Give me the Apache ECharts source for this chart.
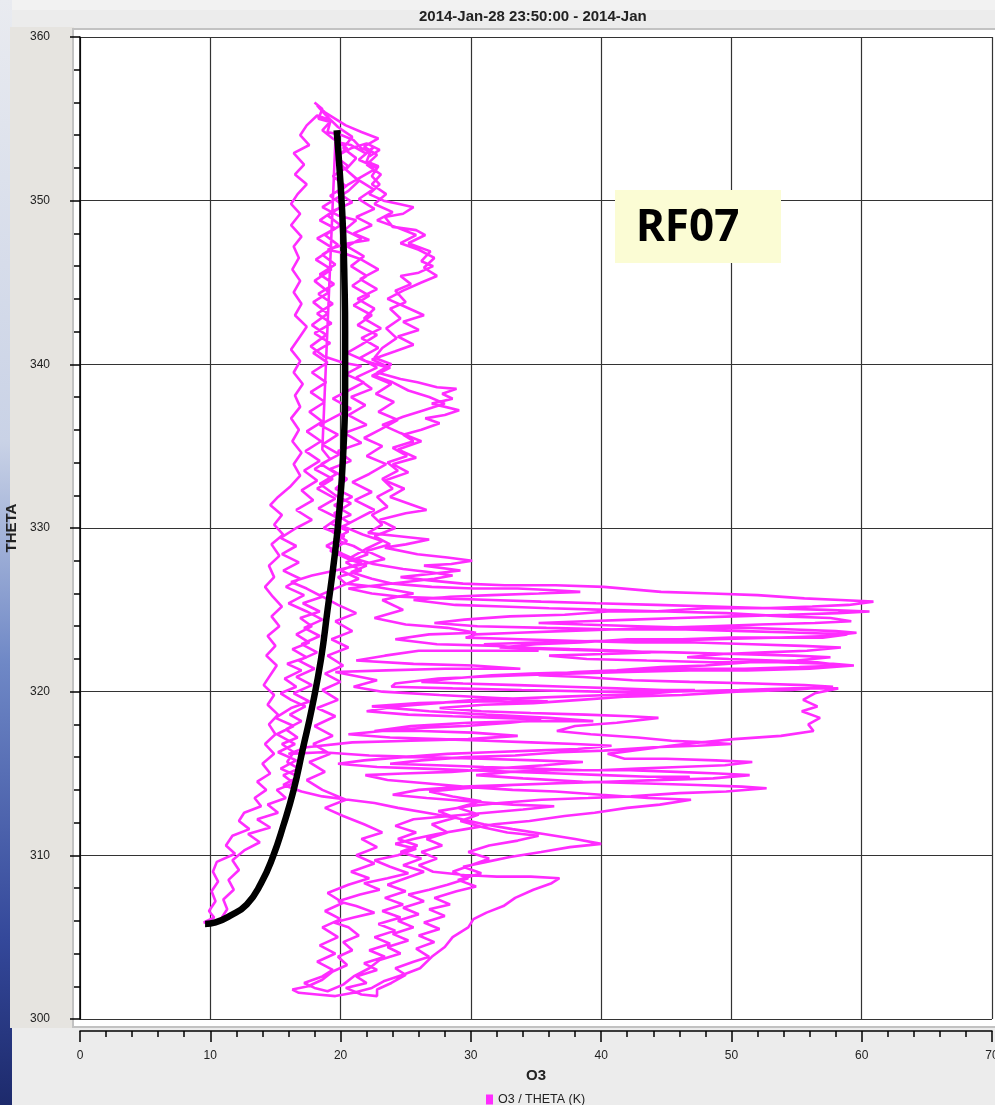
<!DOCTYPE html>
<html>
<head>
<meta charset="utf-8">
<script src="https://cdn.jsdelivr.net/npm/echarts@6/dist/echarts.min.js"></script>
<style>
html,body{margin:0;padding:0;background:#ececec;overflow:hidden;}
#chart{width:995px;height:1105px;}
</style>
</head>
<body>
<div id="chart"></div>
<script>
// ---- data (O3, THETA) ----
const titleText = '2014-Jan-28 23:50:00 - 2014-Jan';
const seriesName = 'O3 / THETA (K)';
const flightLabel = 'RF07';
const xTicks = {min: 0, max: 70, step: 10};
const yTicks = {min: 300, max: 360, step: 10};

const leg1 = [[18.0,356.0],[18.6,355.6],[18.3,355.0],[19.2,354.8],[19.0,354.2],[20.1,354.0],[21.0,353.7],[21.6,353.2],[22.3,353.0],[22.0,352.4],[22.9,352.1],[22.4,351.5],[23.0,351.0],[22.2,350.4],[23.3,350.0],[24.5,349.8],[25.6,349.6],[24.8,349.2],[23.4,349.0],[24.0,348.4],[25.8,348.2],[26.5,347.9],[25.2,347.4],[26.9,346.9],[26.2,346.3],[27.1,346.0],[26.0,345.6],[24.6,345.4],[25.4,344.9],[24.2,344.5],[25.0,343.8],[23.8,343.4],[24.6,342.8],[23.5,342.2],[24.3,341.6],[23.2,341.0],[22.6,340.4],[23.9,340.0],[22.8,339.5],[24.6,339.1],[25.9,338.9],[27.4,338.6],[28.9,338.5],[27.8,338.2],[28.6,337.9],[27.0,337.6],[29.1,337.2],[28.0,336.9],[26.5,336.7],[27.6,336.4],[26.2,336.0],[24.8,335.7],[25.6,335.3],[24.0,334.9],[25.1,334.4],[23.6,334.0],[24.4,333.5],[23.2,333.0],[24.0,332.4],[22.8,331.9],[23.6,331.3],[22.4,330.8],[23.2,330.2],[22.1,329.7],[24.5,329.5],[26.8,329.3],[25.0,329.0],[23.4,328.8],[25.9,328.4],[28.2,328.2],[30.1,328.0],[28.5,327.8],[26.4,327.7],[29.2,327.4],[27.0,327.2],[24.6,327.0],[26.8,326.8],[29.4,326.6],[32.6,326.5],[36.5,326.5],[40.2,326.4],[44.6,326.1],[48.5,326.0],[52.0,325.9],[55.6,325.7],[58.4,325.6],[60.9,325.5],[59.0,325.3],[56.2,325.2],[52.4,325.1],[48.0,325.1],[44.0,324.9],[40.5,324.9],[37.2,324.7],[33.0,324.6],[29.5,324.4],[27.2,324.2],[30.5,324.0],[35.8,323.9],[41.2,323.8],[46.5,323.8],[51.0,323.7],[55.3,323.6],[58.9,323.5],[57.0,323.3],[53.2,323.3],[48.8,323.2],[44.1,323.1],[39.5,323.1],[34.9,323.0],[31.0,322.9],[33.5,322.7],[37.6,322.6],[41.8,322.5],[43.8,322.4],[40.2,322.3],[36.0,322.2],[38.9,322.0],[43.5,321.9],[48.4,321.8],[53.6,321.8],[57.8,321.7],[59.4,321.6],[56.0,321.4],[51.2,321.3],[46.8,321.3],[42.0,321.2],[37.5,321.1],[33.8,321.0],[30.2,320.9],[27.5,320.8],[24.2,320.5],[23.9,320.3],[28.6,320.2],[33.9,320.1],[39.8,320.0],[45.2,320.0],[50.6,320.1],[54.8,320.2],[58.2,320.2],[56.4,319.9],[55.5,319.5],[56.6,319.1],[55.4,318.8],[56.8,318.4],[55.9,318.0],[56.3,317.6],[53.8,317.3],[50.2,317.1],[46.4,316.8],[42.4,316.4],[40.5,316.2],[41.8,315.9],[45.0,315.9],[48.8,315.8],[51.6,315.7],[49.5,315.5],[46.0,315.4],[42.8,315.3],[39.8,315.2],[36.2,315.2],[33.0,315.1],[30.4,314.9],[34.0,314.7],[38.6,314.5],[42.9,314.4],[47.4,314.3],[50.8,314.2],[52.7,314.1],[49.6,313.9],[46.0,313.8],[42.3,313.6],[39.0,313.5],[35.4,313.4],[32.2,313.2],[29.8,313.0],[27.5,312.7],[28.8,312.3],[27.0,311.9],[28.2,311.4],[26.6,311.0],[27.8,310.6],[26.2,310.2],[27.4,309.8],[26.0,309.4],[27.1,309.0],[29.5,308.8],[32.0,308.7],[34.6,308.7],[36.8,308.6],[36.2,308.3],[34.8,307.9],[33.4,307.4],[32.5,306.9],[31.2,306.5],[30.2,306.1],[29.8,305.6],[28.6,305.0],[28.0,304.4],[27.0,303.8],[26.1,303.1],[24.8,302.7],[23.3,302.3],[22.4,301.9],[21.0,301.6],[19.6,301.4],[18.2,301.5],[16.8,301.6],[16.3,301.8]];

const leg2 = [[17.5,302.0],[18.6,302.4],[19.4,302.9],[20.5,303.3],[19.8,303.8],[20.9,304.2],[20.2,304.7],[21.4,305.1],[20.6,305.6],[19.5,305.9],[21.0,306.2],[22.6,306.5],[21.2,306.9],[19.8,307.2],[21.5,307.6],[23.0,307.9],[21.8,308.3],[23.6,308.6],[25.2,308.9],[23.8,309.3],[22.6,309.7],[24.4,310.0],[25.8,310.4],[24.2,310.7],[25.6,311.0],[27.4,311.3],[29.6,311.6],[31.8,311.9],[34.5,312.1],[37.2,312.4],[39.5,312.6],[42.0,312.9],[44.5,313.1],[46.9,313.4],[43.6,313.5],[40.0,313.7],[36.5,313.9],[33.2,314.0],[29.4,314.2],[26.5,314.4],[23.6,314.6],[21.9,314.9],[24.8,315.0],[28.5,315.1],[31.8,315.3],[35.6,315.5],[38.6,315.7],[35.0,315.8],[30.8,315.9],[26.4,316.0],[22.2,316.1],[18.6,316.3],[16.0,316.2],[17.4,316.6],[20.9,316.9],[25.4,317.0],[29.8,317.1],[33.6,317.3],[30.1,317.5],[26.2,317.6],[22.6,317.6],[25.4,317.9],[29.8,318.1],[34.5,318.2],[39.4,318.2],[36.0,318.4],[31.2,318.6],[26.8,318.8],[22.4,319.1],[26.0,319.3],[30.6,319.4],[35.9,319.4],[32.4,319.6],[27.6,319.8],[23.2,320.0],[21.0,320.3],[22.8,320.7],[19.6,321.2],[23.5,321.3],[28.0,321.4],[33.8,321.4],[30.2,321.6],[25.6,321.7],[21.2,321.9],[23.4,322.2],[26.0,322.5],[30.5,322.5],[35.2,322.5],[32.0,322.8],[27.4,322.9],[24.2,323.2],[26.8,323.5],[30.4,323.6],[28.2,323.9],[25.0,324.1],[22.6,324.5],[24.8,325.0],[23.2,325.6],[25.6,326.0],[22.8,326.4],[20.4,326.6],[19.8,327.0],[21.6,327.4],[20.4,327.9],[22.1,328.4],[21.0,328.9],[19.5,329.3],[20.6,329.8],[19.2,330.3],[20.8,330.8],[19.5,331.4],[20.9,331.9],[19.6,332.4],[20.5,333.0],[19.2,333.6],[20.8,334.1],[19.8,334.7],[21.6,335.2],[20.3,335.8],[22.0,336.3],[20.6,336.9],[21.9,337.5],[20.8,338.0],[22.4,338.5],[21.2,339.2],[22.8,339.8],[21.5,340.4],[22.9,341.0],[21.6,341.6],[23.1,342.2],[21.8,342.8],[22.6,343.4],[21.3,344.0],[22.8,344.6],[21.5,345.2],[22.9,345.8],[21.6,346.4],[20.2,346.8],[19.0,347.0],[20.6,347.4],[22.2,347.6],[21.0,348.0],[22.4,348.5],[21.2,349.0],[22.6,349.5],[21.4,350.1],[22.5,350.7],[21.3,351.3],[20.4,351.9],[19.6,352.6],[20.5,353.2],[19.4,353.8],[18.6,354.3],[19.3,354.9]];

const leg3 = [[18.2,355.2],[17.4,354.6],[16.9,354.0],[17.6,353.4],[16.4,352.9],[17.2,352.2],[16.5,351.6],[17.4,351.0],[16.7,350.4],[16.2,349.8],[16.9,349.2],[16.2,348.5],[17.0,347.8],[16.4,347.2],[16.8,346.5],[16.3,345.8],[16.9,345.1],[16.4,344.4],[17.0,343.7],[16.5,343.0],[17.4,342.3],[16.8,341.6],[16.2,340.9],[16.9,340.2],[16.4,339.5],[17.1,338.8],[16.5,338.1],[16.9,337.4],[16.2,336.7],[16.8,336.0],[16.3,335.3],[17.0,334.6],[16.4,333.9],[16.9,333.2],[16.1,332.5],[15.2,331.9],[14.6,331.4],[15.5,330.8],[14.9,330.2],[15.6,329.6],[14.7,329.0],[15.3,328.3],[14.5,327.7],[14.9,327.0],[14.2,326.4],[14.8,325.8],[15.5,325.2],[14.7,324.6],[15.3,324.0],[14.4,323.4],[15.0,322.8],[14.3,322.2],[15.1,321.6],[14.6,321.0],[14.1,320.4],[14.9,319.8],[14.4,319.2],[15.2,318.6],[14.5,318.0],[15.0,317.4],[14.2,316.8],[14.9,316.2],[14.0,315.6],[14.6,315.0],[13.6,314.5],[14.3,314.0],[13.4,313.5],[13.9,313.0],[12.6,312.6],[12.2,312.1],[13.0,311.6],[11.7,311.2],[11.2,310.6],[11.9,310.1],[10.5,309.6],[10.2,309.0],[10.6,308.4],[10.1,307.8],[10.4,307.2],[9.9,306.6],[10.3,306.2],[9.5,305.9],[10.4,305.8]];

const leg4 = [[10.8,306.1],[11.3,306.7],[11.0,307.3],[11.8,307.9],[11.4,308.5],[12.2,309.1],[11.7,309.7],[12.6,310.3],[13.8,310.8],[12.9,311.3],[14.6,311.7],[13.6,312.2],[15.2,312.6],[14.4,313.1],[15.8,313.5],[15.1,314.0],[16.4,314.4],[15.6,314.9],[16.8,315.3],[15.9,315.7],[16.4,316.3],[15.5,316.8],[16.7,317.2],[15.8,317.7],[17.0,318.2],[16.1,318.6],[17.3,319.1],[16.2,319.5],[15.4,319.9],[16.6,320.3],[15.7,320.8],[17.0,321.3],[15.9,321.7],[17.4,322.1],[16.3,322.6],[17.6,323.0],[16.6,323.5],[17.8,324.0],[16.9,324.5],[18.4,324.9],[17.1,325.4],[18.6,325.8],[17.4,326.3],[16.2,326.7],[17.8,327.1],[19.6,327.4],[21.8,327.8],[23.4,328.1],[22.0,328.6],[23.8,329.0],[22.6,329.5],[24.2,330.0],[23.0,330.5],[25.0,330.9],[26.6,331.1],[25.2,331.5],[23.8,331.9],[24.9,332.4],[23.4,332.9],[25.2,333.4],[24.0,333.9],[25.8,334.3],[24.4,334.8],[26.2,335.3],[24.6,335.8],[23.2,336.3],[24.8,336.8],[26.4,337.2],[28.0,337.6],[26.8,338.0],[25.2,338.4],[24.0,338.9],[22.6,339.3],[23.8,339.8],[22.4,340.3],[24.2,340.8],[25.6,341.2],[24.4,341.7],[26.0,342.1],[24.8,342.6],[26.4,343.0],[25.0,343.5],[23.6,344.0],[24.8,344.5],[26.2,345.0],[27.4,345.4],[26.4,345.9],[27.2,346.5],[26.0,347.0],[24.6,347.4],[25.8,347.9],[24.2,348.4],[22.8,348.8],[24.0,349.3],[22.6,349.8],[23.5,350.4],[22.4,351.0],[23.1,351.6],[22.0,352.2],[22.8,352.8],[21.8,353.3],[22.9,353.8],[21.6,354.2],[20.4,354.6],[19.6,355.0],[18.8,355.4],[18.2,355.8]];

const leg5 = [[18.9,355.2],[19.8,354.5],[20.9,353.9],[20.2,353.2],[21.2,352.6],[20.4,351.9],[21.4,351.2],[20.6,350.6],[19.4,350.0],[18.6,349.6],[19.8,349.1],[21.2,348.8],[20.3,348.2],[21.6,347.7],[20.5,347.2],[21.8,346.6],[20.8,346.0],[22.0,345.4],[20.9,344.8],[22.2,344.2],[21.0,343.6],[22.4,343.0],[21.3,342.4],[22.8,341.8],[21.6,341.2],[20.5,340.7],[21.9,340.2],[23.6,339.8],[22.4,339.3],[23.9,338.8],[22.7,338.2],[24.1,337.7],[22.9,337.1],[24.4,336.6],[23.0,336.0],[21.8,335.5],[23.2,335.0],[22.0,334.4],[23.5,333.9],[22.2,333.3],[20.9,332.8],[22.4,332.2],[21.1,331.7],[22.6,331.1],[21.4,330.6],[20.2,330.1],[21.7,329.6],[23.2,329.2],[21.9,328.7],[20.8,328.2],[22.5,327.8],[24.8,327.5],[26.9,327.3],[28.6,327.1],[27.2,326.9],[25.0,326.7],[22.8,326.5],[20.6,326.3],[22.4,326.0],[24.6,325.8],[27.8,325.7],[31.6,325.6],[35.4,325.5],[39.6,325.4],[44.2,325.3],[48.6,325.2],[53.0,325.1],[57.2,325.0],[60.6,324.9],[58.2,324.8],[54.4,324.7],[50.2,324.6],[46.0,324.5],[42.4,324.4],[38.8,324.3],[35.2,324.2],[38.6,324.1],[42.8,324.0],[47.0,323.9],[51.4,323.9],[54.8,323.8],[58.0,323.7],[59.6,323.6],[57.4,323.4],[53.8,323.3],[50.0,323.3],[46.2,323.2],[42.0,323.2],[38.4,323.0],[35.0,322.9],[32.2,322.7],[35.8,322.6],[40.0,322.5],[45.6,322.4],[50.2,322.3],[54.8,322.2],[57.6,322.1],[55.0,321.9],[51.4,321.8],[48.0,321.6],[44.6,321.5],[41.2,321.3],[38.0,321.2],[35.2,321.0],[38.6,320.9],[42.4,320.7],[46.8,320.6],[51.8,320.5],[55.6,320.4],[57.8,320.3],[54.6,320.1],[50.4,320.0],[46.2,319.8],[42.0,319.7],[38.4,319.5],[34.8,319.3],[31.0,319.2],[27.6,319.0],[30.8,318.8],[34.6,318.7],[38.8,318.6],[42.2,318.5],[44.4,318.4],[41.2,318.1],[38.0,317.9],[36.6,317.6],[39.2,317.4],[42.8,317.2],[45.4,317.0],[48.0,316.9],[50.0,316.8],[47.4,316.7],[44.0,316.6],[40.2,316.4],[36.8,316.3],[33.4,316.1],[29.6,316.0],[26.2,315.8],[23.8,315.6],[27.4,315.5],[31.0,315.4],[34.8,315.3],[38.6,315.2],[42.2,315.2],[45.8,315.1],[49.0,315.0],[51.4,314.9],[48.6,314.7],[44.8,314.6],[40.6,314.5],[36.8,314.4],[33.2,314.3],[29.6,314.1],[26.8,313.9],[28.6,313.6],[30.8,313.3],[29.0,312.9],[30.6,312.5],[29.2,312.1],[31.0,311.7],[32.8,311.4],[35.2,311.2],[33.6,310.9],[31.4,310.6],[29.8,310.2],[31.4,309.8],[30.0,309.4],[28.6,309.0],[29.8,308.6],[28.2,308.2],[26.8,307.9],[25.2,307.6],[26.4,307.2],[24.8,306.8],[26.0,306.4],[24.4,306.0],[25.6,305.6],[24.0,305.2],[25.2,304.8],[23.6,304.4],[24.6,304.0],[23.0,303.6],[22.2,303.1],[21.0,302.6],[20.2,302.1],[19.0,301.7],[18.0,301.9],[17.2,302.2],[18.6,302.6]];

const leg6 = [[19.4,303.0],[18.2,303.5],[19.6,304.0],[18.4,304.5],[19.8,305.0],[18.6,305.6],[20.0,306.1],[18.8,306.6],[20.2,307.1],[19.0,307.7],[20.6,308.2],[22.2,308.6],[20.8,309.0],[22.6,309.5],[21.2,310.0],[22.8,310.5],[21.6,311.0],[23.2,311.4],[21.8,311.9],[20.2,312.4],[18.8,312.9],[20.4,313.4],[18.6,314.0],[17.4,314.6],[18.8,315.1],[17.6,315.7],[19.2,316.2],[17.9,316.8],[19.4,317.3],[18.0,317.9],[19.6,318.5],[18.2,319.0],[19.8,319.5],[18.6,320.1],[20.0,320.6],[18.8,321.1],[20.2,321.6],[19.0,322.2],[20.6,322.7],[19.3,323.2],[20.9,323.7],[19.6,324.3],[21.2,324.8],[19.8,325.3],[18.4,325.9],[19.9,326.4],[21.4,326.9],[20.0,327.4],[21.6,327.9],[20.2,328.4],[18.9,328.9],[20.3,329.5],[18.7,330.0],[19.8,330.6],[18.3,331.2],[19.6,331.8],[18.2,332.4],[19.4,333.0],[18.0,333.6],[19.2,334.2],[18.6,334.8]];

const leg7 = [[19.6,353.6],[20.8,353.4],[21.9,352.9],[22.6,353.3],[21.4,352.5],[22.8,352.0],[21.7,351.5],[20.6,351.0],[19.8,350.5],[20.9,349.9],[19.5,349.4],[18.4,348.8],[19.6,348.3],[18.2,347.7],[19.4,347.1],[18.1,346.4],[19.3,345.8],[18.0,345.1],[19.1,344.4],[17.9,343.8],[19.0,343.1],[17.8,342.4],[18.9,341.8],[17.7,341.1],[18.7,340.5],[20.2,340.1],[21.6,339.9],[20.4,339.4],[21.8,338.9],[20.6,338.4],[19.4,337.9],[20.8,337.3],[19.6,336.8],[18.4,336.3],[19.8,335.7],[18.6,335.1],[19.9,334.5],[18.5,333.9],[19.7,333.3],[18.4,332.7],[19.6,332.0],[20.8,331.5],[19.5,330.9],[20.7,330.3],[19.3,329.8],[20.5,329.2],[19.2,328.6],[20.6,328.1],[22.0,327.7],[20.8,327.3],[22.4,326.9],[24.0,326.6],[27.0,326.4],[30.2,326.3],[33.6,326.3],[36.4,326.2],[38.4,326.1],[35.2,326.0],[31.6,325.9],[28.4,325.8],[25.6,325.6],[28.8,325.3],[32.4,325.2],[36.0,325.1],[40.4,325.0],[45.0,324.9],[49.6,324.8],[54.0,324.6],[57.6,324.5],[59.2,324.3],[56.4,324.2],[52.2,324.1],[48.4,324.0],[44.6,323.9],[40.8,323.8],[37.0,323.7],[33.6,323.6],[30.4,323.5],[29.6,323.3],[33.8,323.2],[38.2,323.1],[42.6,323.0],[47.2,323.0],[51.6,322.9],[55.4,322.8],[58.4,322.7],[55.8,322.5],[52.6,322.4],[49.4,322.3],[46.6,322.1],[49.8,322.0],[53.2,321.9],[56.6,321.8],[58.6,321.6],[55.2,321.5],[51.0,321.4],[46.6,321.4],[42.4,321.3],[38.6,321.2],[34.6,321.1],[31.6,321.0],[28.6,320.8],[26.2,320.6],[29.4,320.5],[33.6,320.4],[37.4,320.3],[41.2,320.2],[44.8,320.1],[47.2,320.1],[44.0,319.9],[40.6,319.8],[37.2,319.7],[33.8,319.6],[30.4,319.5],[27.4,319.3],[24.2,319.1],[22.0,318.8],[25.2,318.6],[28.6,318.5],[32.2,318.4],[35.4,318.3],[33.0,318.1],[29.6,317.9],[26.4,317.8],[23.2,317.6],[20.6,317.4],[23.8,317.2],[27.6,317.1],[31.2,317.0],[34.6,316.9],[38.0,316.8],[40.8,316.7],[38.2,316.5],[34.8,316.4],[31.4,316.3],[28.2,316.2],[24.8,316.0],[21.8,315.8],[19.8,315.6],[22.8,315.4],[26.4,315.3],[29.8,315.2],[33.4,315.1],[36.8,315.0],[40.2,314.9],[43.6,314.8],[46.8,314.8],[44.2,314.6],[40.4,314.5],[36.6,314.4],[32.8,314.3],[29.4,314.2],[26.0,314.0],[24.0,313.7],[26.6,313.5],[29.8,313.3],[33.2,313.1],[36.4,313.0],[34.0,312.8],[31.2,312.6],[28.4,312.4],[25.6,312.2],[24.2,311.8],[25.8,311.4],[24.4,311.0],[25.9,310.6],[24.6,310.2],[26.2,309.8],[24.8,309.4],[26.4,309.0],[25.0,308.6],[23.6,308.2],[25.0,307.8],[23.4,307.4],[24.8,307.0],[23.2,306.6],[24.6,306.2],[22.9,305.8],[24.2,305.4],[22.6,305.0],[23.8,304.6],[22.2,304.2],[23.4,303.8],[21.8,303.4],[22.8,303.0],[21.2,302.6],[22.0,302.2],[20.4,301.9],[21.6,301.5],[22.8,301.4]];

const leg8 = [[22.8,301.8],[23.9,302.2],[25.0,302.7],[24.2,303.1],[25.6,303.5],[26.8,303.8],[25.8,304.3],[27.2,304.7],[26.0,305.1],[27.6,305.5],[26.4,305.9],[28.0,306.3],[26.8,306.7],[28.4,307.0],[27.2,307.4],[28.9,307.8],[30.4,308.1],[29.0,308.5],[30.8,308.9],[29.4,309.3],[31.2,309.6],[33.0,309.9],[35.4,310.2],[37.6,310.5],[40.0,310.7],[38.0,311.0],[35.6,311.3],[33.2,311.6],[31.0,311.9],[28.8,312.3],[26.6,312.6],[24.4,312.9],[22.6,313.2],[20.6,313.4],[18.6,313.6],[17.0,313.9],[15.6,314.3],[16.8,314.8],[15.4,315.3],[16.6,315.8],[15.2,316.3],[16.5,316.8],[15.1,317.4],[16.4,317.9],[15.0,318.4],[16.2,319.0],[17.6,319.4],[16.4,319.9],[17.8,320.4],[16.6,320.9],[18.0,321.4],[16.8,321.9],[18.2,322.4],[17.0,322.9],[18.4,323.4],[17.2,323.9],[18.6,324.4],[17.4,324.9],[16.0,325.4],[17.2,325.9],[15.8,326.4],[16.9,326.9],[15.6,327.4],[16.8,327.9],[15.5,328.4],[16.6,328.9],[15.4,329.4],[16.6,330.0],[17.8,330.5],[16.6,331.1],[17.9,331.7],[17.0,332.3],[18.2,332.9],[17.2,333.5],[18.4,334.1],[17.3,334.7],[18.5,335.3],[17.4,335.9],[18.6,336.5],[17.6,337.1],[18.8,337.7],[17.7,338.3],[18.9,338.9],[17.8,339.5],[19.0,340.1],[17.9,340.7],[19.2,341.3],[18.0,341.9],[19.3,342.5],[18.2,343.1],[19.4,343.7],[18.3,344.3],[19.5,344.9],[18.4,345.5],[19.6,346.1],[18.6,346.7],[19.8,347.3],[18.8,347.9],[20.0,348.5],[19.0,349.1],[20.2,349.7],[19.2,350.3],[20.4,350.9],[19.4,351.5],[20.6,352.1],[19.6,352.7],[20.8,353.2],[22.0,353.5],[23.0,353.1],[22.2,352.7]];

// hand-drawn black curve annotation
const blackCurve = [[9.6,305.8],[10.4,305.9],[11.5,306.3],[12.8,307.0],[13.9,308.3],[14.8,309.9],[15.6,311.8],[16.4,314.0],[17.1,316.5],[17.8,319.0],[18.5,322.0],[19.0,325.0],[19.5,328.0],[19.9,331.0],[20.2,334.5],[20.35,338.4],[20.35,342.0],[20.3,345.0],[20.2,348.0],[20.0,351.0],[19.7,354.3]];

const trace = [].concat(leg1, leg2, leg3, leg4, leg5, leg6, leg7, leg8);

const chart = echarts.init(document.getElementById('chart'), null, {renderer: 'canvas'});
const FONT = '"Liberation Sans", Arial, Helvetica, sans-serif';
const MAG = '#ff2cff';

chart.setOption({
  animation: false,
  backgroundColor: '#ececec',
  textStyle: {fontFamily: FONT},
  title: {
    text: titleText, left: 414, top: 4,
    textStyle: {fontSize: 15, fontWeight: 'bold', color: '#222', fontFamily: FONT}
  },
  legend: {
    data: [seriesName], left: 481, top: 1088,
    itemWidth: 7, itemHeight: 10, itemGap: 6,
    icon: 'rect',
    textStyle: {fontSize: 12.5, color: '#222', fontFamily: FONT}
  },
  grid: {left: 80, right: 3, top: 37, bottom: 86, containLabel: false, outerBoundsMode: 'none'},
  graphic: [
    {type: 'rect', z: -20, shape: {x: 0, y: 0, width: 12, height: 1105},
     style: {fill: new echarts.graphic.LinearGradient(0, 0, 0, 1, [
       {offset: 0, color: '#e9ebf0'}, {offset: 0.4, color: '#c9d2e6'},
       {offset: 0.6, color: '#6f88c6'}, {offset: 0.85, color: '#34489a'}, {offset: 1, color: '#1d2a6c'}])}},
    {type: 'rect', z: -15, shape: {x: 12, y: 0, width: 983, height: 10}, style: {fill: '#f2f2f2'}},
    {type: 'rect', z: -14, shape: {x: 10, y: 27, width: 64, height: 1001}, style: {fill: '#e6e4e0'}},
    {type: 'rect', z: -10, shape: {x: 73, y: 29, width: 940, height: 998},
     style: {fill: '#ffffff', stroke: '#c2c2c2', lineWidth: 2}},
    {type: 'rect', z: 100, shape: {x: 615, y: 190, width: 166, height: 73}, style: {fill: '#fbfcd4'}},
    {type: 'text', z: 101, x: 636, y: 228,
     style: {text: flightLabel, fill: '#000', font: 'bold 44px "Noto Sans", sans-serif', textVerticalAlign: 'middle'}}
  ],
  xAxis: {
    type: 'value', min: xTicks.min, max: xTicks.max, interval: xTicks.step,
    offset: 12,
    name: 'O3', nameLocation: 'middle', nameGap: 37,
    nameTextStyle: {fontSize: 15, fontWeight: 'bold', color: '#222', fontFamily: FONT},
    axisLine: {show: true, lineStyle: {color: '#000', width: 1.5}},
    axisTick: {show: true, length: 11, lineStyle: {color: '#000', width: 1.5}},
    minorTick: {show: true, splitNumber: 5, length: 6, lineStyle: {color: '#000', width: 1.5}},
    axisLabel: {fontSize: 12, color: '#222', margin: 19, fontFamily: FONT},
    splitLine: {show: true, lineStyle: {color: '#333', width: 1.2}}
  },
  yAxis: {
    type: 'value', min: yTicks.min, max: yTicks.max, interval: yTicks.step,
    offset: 12,
    name: 'THETA', nameLocation: 'middle', nameGap: 43, nameRotate: 90,
    nameTextStyle: {fontSize: 15, fontWeight: 'bold', color: '#222', fontFamily: FONT},
    axisLine: {show: true, lineStyle: {color: '#000', width: 1.5}},
    axisTick: {show: true, length: 10, lineStyle: {color: '#000', width: 1.5}},
    minorTick: {show: true, splitNumber: 5, length: 6, lineStyle: {color: '#000', width: 1.5}},
    axisLabel: {fontSize: 12, color: '#222', margin: 18, fontFamily: FONT},
    splitLine: {show: true, lineStyle: {color: '#333', width: 1.2}}
  },
  series: [
    {
      name: seriesName, type: 'line', data: trace,
      showSymbol: false, symbol: 'none', clip: true,
      lineStyle: {color: MAG, width: 2.6, join: 'bevel'},
      itemStyle: {color: MAG}, z: 3
    },
    {
      name: 'curve', type: 'line', data: blackCurve, smooth: 0.5,
      showSymbol: false, symbol: 'none',
      lineStyle: {color: '#000', width: 6.5, cap: 'butt'},
      itemStyle: {color: '#000'}, z: 4
    }
  ]
});
</script>
</body>
</html>
